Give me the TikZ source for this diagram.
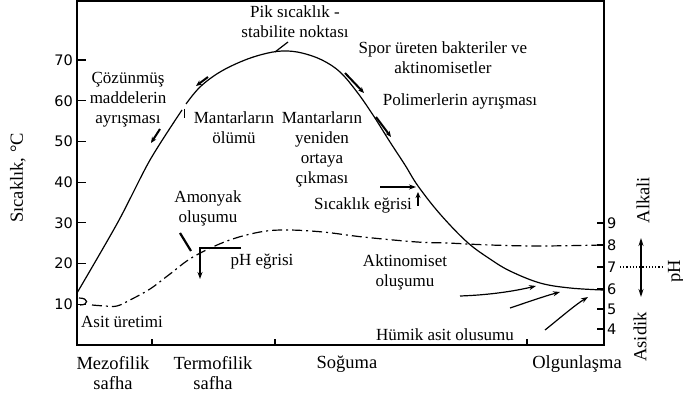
\documentclass[tikz,border=0pt]{standalone}
\usepackage{fontspec}
\setmainfont{Liberation Serif}
\newfontfamily\numfont{DejaVu Sans}
\usetikzlibrary{arrows.meta}
\begin{document}
\begin{tikzpicture}[x=1pt,y=-1pt,
  lbl/.style={inner sep=0pt, align=center, font=\fontsize{17}{20}\selectfont},
  phaselbl/.style={inner sep=0pt, align=center, font=\fontsize{18.5}{20}\selectfont},
  tnum/.style={inner sep=0pt, anchor=east, font=\numfont\fontsize{14.5}{14.5}\selectfont},
  pnum/.style={inner sep=0pt, anchor=west, font=\numfont\fontsize{14.5}{14.5}\selectfont},
  tcurve/.style={line width=1.2pt},
  phcurve/.style={line width=1.2pt, dash pattern=on 10pt off 4pt on 2pt off 4pt},
  frame/.style={line width=1.4pt},
  ptr/.style={line width=1.2pt,-{Stealth[length=7pt,width=5pt]}},
  fat/.style={line width=2pt,-{Stealth[length=6pt,width=5pt]}},
]
\useasboundingbox (0,0) rectangle (683,403);
% frame
\coordinate (tl) at (77,1);
\coordinate (tr) at (604,1);
\coordinate (bl) at (77,345);
\coordinate (br) at (604,345);
\draw[frame] (tl) -- (bl) -- (br) -- (tr) -- cycle;
% left ticks
\foreach \t in {10,20,...,70}{
  \pgfmathsetmacro{\yy}{345-4.07*\t}
  \draw[line width=1.2pt] (77,\yy) -- (86,\yy);
  \node[tnum] at (73,\yy) {\t};
}
% right ticks
\foreach \v/\yy in {9/223,8/245,7/267,6/289,5/309,4/329}{
  \draw[line width=1.2pt] (597,\yy) -- (604,\yy);
  \node[pnum] at (607,\yy) {\v};
}
% bottom ticks
\foreach \xx in {152,275,527}{
  \draw[line width=1.2pt] (\xx,345) -- (\xx,339);
}
% temperature curve
\draw[tcurve] plot[smooth,tension=0.5] coordinates {(77,293) (118,222) (150,160) (182,110)};
\draw[tcurve] plot[smooth,tension=0.6] coordinates {(186,104) (200,87) (220,72) (245,60) (268,53) (285,51) (302,53) (322,60) (340,72) (357,92) (373,115) (390,142) (405,165) (418,186) (440,214) (467,242) (490,259) (510,271) (540,283) (570,288) (603,290)};
\draw[line width=1pt] (184,109) -- (184,118);
% pH curve
\draw[line width=1.2pt] (79,298) .. controls (89,298) and (89,305) .. (80,305);
\draw[phcurve] plot[smooth,tension=0.6] coordinates {(92,305) (105,306) (117,306) (130,300) (150,289) (170,274) (193,257) (227,241) (260,232) (287,230) (323,232) (363,237) (417,242) (447,243) (490,245) (540,246) (603,245)};
% pH 7 dotted and double arrow
\coordinate (d7a) at (620,267);
\coordinate (d7b) at (663,267);
\draw[line width=1.2pt, dotted] (d7a) -- (d7b);
\coordinate (ua) at (641,238);
\coordinate (ub) at (641,297);
\draw[line width=1.2pt,{Stealth[length=8pt,width=5pt]}-{Stealth[length=8pt,width=5pt]}] (ua) -- (ub);
% labels
\node[lbl] (pik) at (295,22) {Pik sıcaklık -\\stabilite noktası};
\node[lbl] (spor) at (443,58) {Spor üreten bakteriler ve\\aktinomisetler};
\node[lbl] (poli) at (460,101) {Polimerlerin ayrışması};
\node[lbl] (coz) at (128,100) {Çözünmüş\\maddelerin\\ayrışması};
\node[lbl] (olum) at (234,128) {Mantarların\\ölümü};
\node[lbl] (yeni) at (322,149) {Mantarların\\yeniden\\ortaya\\çıkması};
\node[lbl] (sic) at (363,205) {Sıcaklık eğrisi};
\node[lbl] (amo) at (208,208) {Amonyak\\oluşumu};
\node[lbl] (phe) at (262,262) {pH eğrisi};
\node[lbl] (akt) at (405,272) {Aktinomiset\\oluşumu};
\node[lbl] (asit) at (122,322) {Asit üretimi};
\node[lbl] (humik) at (445,335) {Hümik asit olusumu};
\node[phaselbl] (mez) at (113,373) {Mezofilik\\safha};
\node[phaselbl] (ter) at (213,373) {Termofilik\\safha};
\node[phaselbl] (sog) at (347,364) {Soğuma};
\node[phaselbl] (olg) at (577,364) {Olgunlaşma};
\node[phaselbl, rotate=90] (ylab) at (18,178) {Sıcaklık, °C};
\node[phaselbl, rotate=90] (alk) at (643,200) {Alkali};
\node[phaselbl, rotate=90] (asd) at (640,337) {Asidik};
\node[phaselbl, rotate=90] (phl) at (676,271) {pH};
% pointers
\coordinate (pk1) at (275,52);
\coordinate (pk2) at (288,42);
\draw[line width=1.2pt] (pk1) -- (pk2);
\coordinate (s1) at (380,187);
\coordinate (s2) at (416,187);
\draw[ptr] (s1) -- (s2);
\coordinate (s3) at (418,206);
\coordinate (s4) at (418,192);
\draw[fat] (s3) -- (s4);
\coordinate (am1) at (180,233);
\coordinate (am2) at (191,251);
\draw[line width=2.2pt] (am1) -- (am2);
\coordinate (ph1) at (241,248);
\coordinate (ph2) at (200,248);
\coordinate (ph3) at (200,279);
\draw[line width=1.4pt,-{Stealth[length=7pt,width=5pt]}] (ph1) -- (ph2) -- (ph3);
% arrows along temperature curve
\coordinate (a1a) at (160,129); \coordinate (a1b) at (151,143);
\draw[fat] (a1a) -- (a1b);
\coordinate (a2a) at (208,77); \coordinate (a2b) at (196,86);
\draw[fat] (a2a) -- (a2b);
\coordinate (d1a) at (345,73); \coordinate (d1b) at (364,93);
\draw[fat] (d1a) -- (d1b);
\coordinate (d2a) at (376,117); \coordinate (d2b) at (391,137);
\draw[fat] (d2a) -- (d2b);
% humic / actinomycete arrows
\coordinate (h1a) at (460,296); \coordinate (h1b) at (536,286);
\draw[ptr] (h1a) .. controls (490,295) and (515,291) .. (h1b);
\coordinate (h2a) at (510,308); \coordinate (h2b) at (560,292);
\draw[ptr] (h2a) .. controls (525,303) and (545,296) .. (h2b);
\coordinate (h3a) at (545,330); \coordinate (h3b) at (588,297);
\draw[ptr] (h3a) .. controls (560,318) and (575,305) .. (h3b);
\end{tikzpicture}
\end{document}
